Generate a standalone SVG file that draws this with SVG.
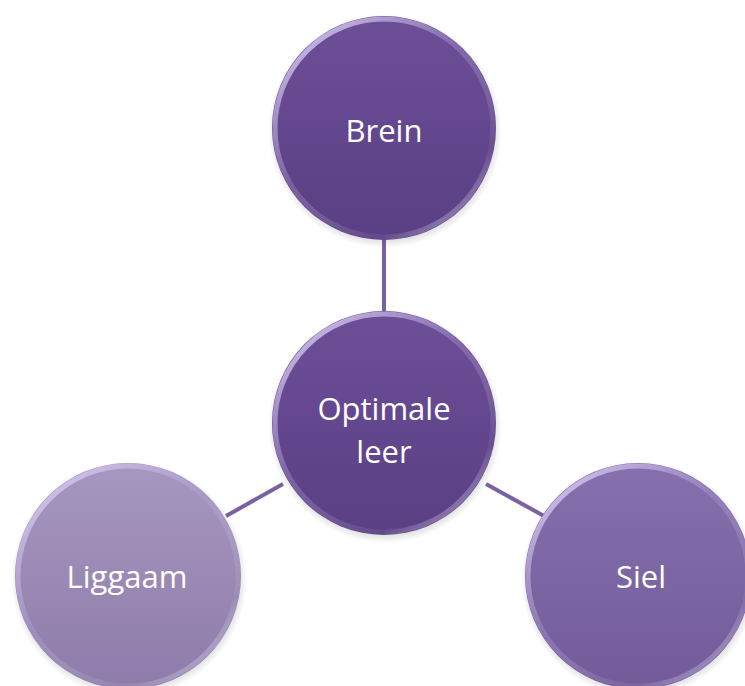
<svg xmlns="http://www.w3.org/2000/svg" width="745" height="686" viewBox="0 0 745 686">
<style>
.lbl{font-family:"Open Sans","Liberation Sans",sans-serif;font-size:31px;fill:#ffffff;text-anchor:middle}
.conn{stroke:#7a62a2;stroke-width:4;fill:none}
.rim{fill:none;stroke:url(#rimG);stroke-width:5}
</style>
<defs>
<linearGradient id="dark" x1="0" y1="0" x2="0" y2="1">
<stop offset="0" stop-color="#6d4f98"/><stop offset="1" stop-color="#5a3f84"/>
</linearGradient>
<linearGradient id="mid" x1="0" y1="0" x2="0" y2="1">
<stop offset="0" stop-color="#8670ad"/><stop offset="1" stop-color="#735b9a"/>
</linearGradient>
<linearGradient id="light" x1="0" y1="0" x2="0" y2="1">
<stop offset="0" stop-color="#a697c0"/><stop offset="1" stop-color="#8d7ca9"/>
</linearGradient>
<linearGradient id="rimG" x1="0.1" y1="0" x2="0.9" y2="1">
<stop offset="0" stop-color="#ddd2f4" stop-opacity="0.95"/>
<stop offset="0.45" stop-color="#b7a5dc" stop-opacity="0.3"/>
<stop offset="0.8" stop-color="#ffffff" stop-opacity="0.05"/>
<stop offset="1" stop-color="#c9b8ec" stop-opacity="0.6"/>
</linearGradient>
<radialGradient id="shadow" cx="0.5" cy="0.5" r="0.5">
<stop offset="0.85" stop-color="#000" stop-opacity="0.25"/>
<stop offset="1" stop-color="#000" stop-opacity="0"/>
</radialGradient>
</defs>
<rect width="745" height="686" fill="#ffffff"/>
<g id="connectors">
<line class="conn" x1="384" y1="238" x2="384" y2="315"/>
<line class="conn" x1="283" y1="484" x2="226" y2="516"/>
<line class="conn" x1="486" y1="484" x2="544" y2="516"/>
</g>
<g id="node-brein">
<circle cx="385" cy="131" r="117" fill="url(#shadow)"/>
<circle cx="384" cy="128" r="112" fill="url(#dark)"/>
<circle class="rim" cx="384" cy="128" r="109"/>
<text class="lbl" x="384" y="142">Brein</text>
</g>
<g id="node-center">
<circle cx="385" cy="426" r="117" fill="url(#shadow)"/>
<circle cx="384" cy="423" r="112" fill="url(#dark)"/>
<circle class="rim" cx="384" cy="423" r="109"/>
<text class="lbl" x="384" y="420">Optimale</text>
<text class="lbl" x="384" y="463">leer</text>
</g>
<g id="node-liggaam">
<circle cx="129" cy="579" r="118" fill="url(#shadow)"/>
<circle cx="128" cy="576" r="113" fill="url(#light)"/>
<circle class="rim" cx="128" cy="576" r="110"/>
<text class="lbl" x="127" y="588">Liggaam</text>
</g>
<g id="node-siel">
<circle cx="639" cy="579" r="118" fill="url(#shadow)"/>
<circle cx="638" cy="576" r="113" fill="url(#mid)"/>
<circle class="rim" cx="638" cy="576" r="110"/>
<text class="lbl" x="641" y="588">Siel</text>
</g>
</svg>
